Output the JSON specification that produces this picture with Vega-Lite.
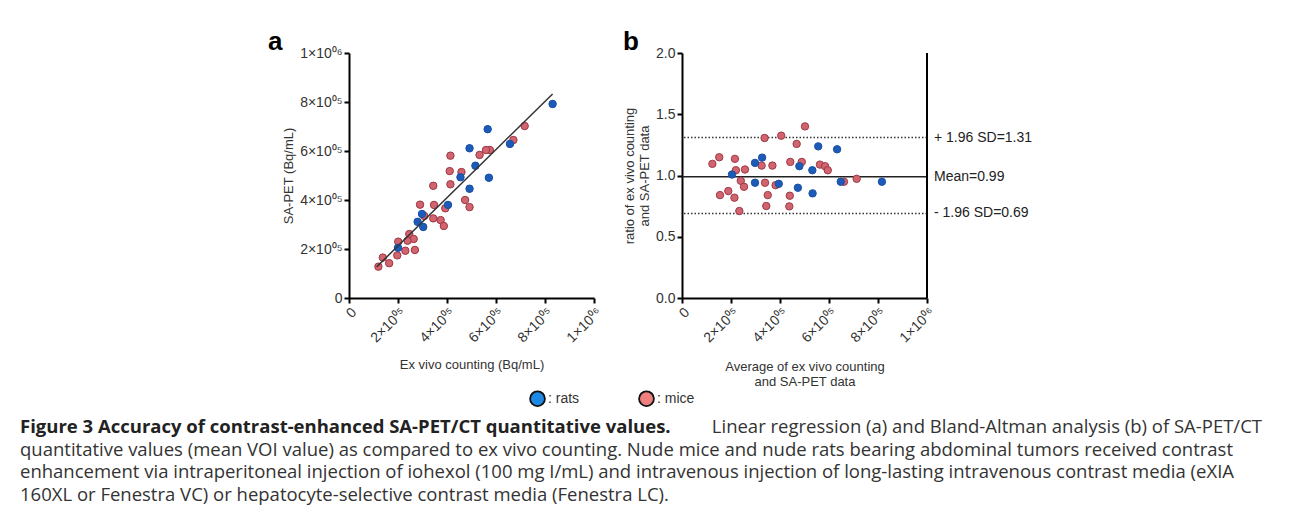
{
  "$schema": "https://vega.github.io/schema/vega-lite/v6.json",
  "padding": {"left": 20, "top": 29, "right": 5, "bottom": 0},
  "background": "white",
  "spacing": 27,
  "datasets": {
    "reg": [
      {"species": "mice", "exvivo": 717000, "sapet": 702000},
      {"species": "mice", "exvivo": 671000, "sapet": 645000},
      {"species": "mice", "exvivo": 575000, "sapet": 604000},
      {"species": "mice", "exvivo": 559000, "sapet": 604000},
      {"species": "mice", "exvivo": 533000, "sapet": 584000},
      {"species": "mice", "exvivo": 414000, "sapet": 581000},
      {"species": "mice", "exvivo": 411000, "sapet": 518000},
      {"species": "mice", "exvivo": 459000, "sapet": 514000},
      {"species": "mice", "exvivo": 414000, "sapet": 464000},
      {"species": "mice", "exvivo": 344000, "sapet": 458000},
      {"species": "mice", "exvivo": 474000, "sapet": 400000},
      {"species": "mice", "exvivo": 492000, "sapet": 371000},
      {"species": "mice", "exvivo": 393000, "sapet": 366000},
      {"species": "mice", "exvivo": 347000, "sapet": 380000},
      {"species": "mice", "exvivo": 290000, "sapet": 381000},
      {"species": "mice", "exvivo": 307000, "sapet": 335000},
      {"species": "mice", "exvivo": 344000, "sapet": 325000},
      {"species": "mice", "exvivo": 374000, "sapet": 318000},
      {"species": "mice", "exvivo": 387000, "sapet": 294000},
      {"species": "mice", "exvivo": 246000, "sapet": 261000},
      {"species": "mice", "exvivo": 264000, "sapet": 241000},
      {"species": "mice", "exvivo": 239000, "sapet": 234000},
      {"species": "mice", "exvivo": 201000, "sapet": 230000},
      {"species": "mice", "exvivo": 230000, "sapet": 193000},
      {"species": "mice", "exvivo": 269000, "sapet": 196000},
      {"species": "mice", "exvivo": 197000, "sapet": 174000},
      {"species": "mice", "exvivo": 138000, "sapet": 165000},
      {"species": "mice", "exvivo": 120000, "sapet": 128000},
      {"species": "mice", "exvivo": 164000, "sapet": 142000},
      {"species": "rats", "exvivo": 831000, "sapet": 792000},
      {"species": "rats", "exvivo": 657000, "sapet": 629000},
      {"species": "rats", "exvivo": 566000, "sapet": 689000},
      {"species": "rats", "exvivo": 492000, "sapet": 611000},
      {"species": "rats", "exvivo": 516000, "sapet": 540000},
      {"species": "rats", "exvivo": 455000, "sapet": 493000},
      {"species": "rats", "exvivo": 571000, "sapet": 491000},
      {"species": "rats", "exvivo": 492000, "sapet": 446000},
      {"species": "rats", "exvivo": 404000, "sapet": 380000},
      {"species": "rats", "exvivo": 298000, "sapet": 343000},
      {"species": "rats", "exvivo": 280000, "sapet": 311000},
      {"species": "rats", "exvivo": 303000, "sapet": 290000},
      {"species": "rats", "exvivo": 200000, "sapet": 205000}
    ],
    "ba": [
      {"species": "mice", "avg": 124000, "ratio": 1.095},
      {"species": "mice", "avg": 152000, "ratio": 1.149},
      {"species": "mice", "avg": 155000, "ratio": 0.84},
      {"species": "mice", "avg": 189000, "ratio": 0.873},
      {"species": "mice", "avg": 216000, "ratio": 1.136},
      {"species": "mice", "avg": 220000, "ratio": 1.043},
      {"species": "mice", "avg": 214000, "ratio": 0.819},
      {"species": "mice", "avg": 240000, "ratio": 0.957},
      {"species": "mice", "avg": 253000, "ratio": 0.908},
      {"species": "mice", "avg": 257000, "ratio": 1.049},
      {"species": "mice", "avg": 234000, "ratio": 0.71},
      {"species": "mice", "avg": 337000, "ratio": 1.306},
      {"species": "mice", "avg": 325000, "ratio": 1.081},
      {"species": "mice", "avg": 339000, "ratio": 0.941},
      {"species": "mice", "avg": 350000, "ratio": 0.84},
      {"species": "mice", "avg": 344000, "ratio": 0.751},
      {"species": "mice", "avg": 369000, "ratio": 1.081},
      {"species": "mice", "avg": 382000, "ratio": 0.921},
      {"species": "mice", "avg": 405000, "ratio": 1.325},
      {"species": "mice", "avg": 442000, "ratio": 1.111},
      {"species": "mice", "avg": 440000, "ratio": 0.835},
      {"species": "mice", "avg": 438000, "ratio": 0.748},
      {"species": "mice", "avg": 468000, "ratio": 1.258},
      {"species": "mice", "avg": 489000, "ratio": 1.111},
      {"species": "mice", "avg": 502000, "ratio": 1.401},
      {"species": "mice", "avg": 563000, "ratio": 1.089},
      {"species": "mice", "avg": 584000, "ratio": 1.076},
      {"species": "mice", "avg": 595000, "ratio": 1.043},
      {"species": "mice", "avg": 661000, "ratio": 0.949},
      {"species": "mice", "avg": 713000, "ratio": 0.973},
      {"species": "rats", "avg": 204000, "ratio": 1.008},
      {"species": "rats", "avg": 298000, "ratio": 1.103},
      {"species": "rats", "avg": 327000, "ratio": 1.146},
      {"species": "rats", "avg": 298000, "ratio": 0.941},
      {"species": "rats", "avg": 395000, "ratio": 0.932},
      {"species": "rats", "avg": 479000, "ratio": 1.076},
      {"species": "rats", "avg": 473000, "ratio": 0.9},
      {"species": "rats", "avg": 532000, "ratio": 1.043},
      {"species": "rats", "avg": 533000, "ratio": 0.854},
      {"species": "rats", "avg": 556000, "ratio": 1.238},
      {"species": "rats", "avg": 633000, "ratio": 1.214},
      {"species": "rats", "avg": 648000, "ratio": 0.949},
      {"species": "rats", "avg": 816000, "ratio": 0.949}
    ],
    "limits": [
      {"kind": "upper", "value": 1.31, "label": "+ 1.96 SD=1.31"},
      {"kind": "mean", "value": 0.99, "label": "Mean=0.99"},
      {"kind": "lower", "value": 0.69, "label": "- 1.96 SD=0.69"}
    ],
    "caption": [
      {"line": 1, "seg": "bold", "text": "Figure 3 Accuracy of contrast-enhanced SA-PET/CT quantitative values."},
      {"line": 1, "seg": "right", "text": "Linear regression (a) and Bland-Altman analysis (b) of SA-PET/CT"},
      {"line": 2, "seg": "left", "text": "quantitative values (mean VOI value) as compared to ex vivo counting. Nude mice and nude rats bearing abdominal tumors received contrast"},
      {"line": 3, "seg": "left", "text": "enhancement via intraperitoneal injection of iohexol (100 mg I/mL) and intravenous injection of long-lasting intravenous contrast media (eXIA"},
      {"line": 4, "seg": "left", "text": "160XL or Fenestra VC) or hepatocyte-selective contrast media (Fenestra LC)."}
    ]
  },
  "vconcat": [
    {
      "bounds": "flush",
      "spacing": 88,
      "hconcat": [
        {
          "width": 241,
          "height": 245,
          "data": {"values": []},
          "mark": {"type": "point", "opacity": 0}
        },
        {
          "width": 245,
          "height": 245,
          "title": {"text": "a", "anchor": "start", "frame": "group", "dx": -81, "dy": 35, "offset": 0, "baseline": "bottom", "fontSize": 26, "fontWeight": "bold", "font": "Liberation Sans", "color": "#000"},
          "data": {"name": "reg"},
          "encoding": {
            "x": {"field": "exvivo", "type": "quantitative", "scale": {"domain": [0, 1000000], "nice": false},
              "axis": {"values": [0, 200000, 400000, 600000, 800000, 1000000], "labelAngle": -45, "title": "Ex vivo counting (Bq/mL)", "titlePadding": 14,
                "labelExpr": "datum.value == 0 ? '0' : datum.value == 1000000 ? '1×10⁰⁶' : (datum.value / 100000) + '×10⁰⁵'"}},
            "y": {"field": "sapet", "type": "quantitative", "scale": {"domain": [0, 1000000], "nice": false},
              "axis": {"values": [0, 200000, 400000, 600000, 800000, 1000000], "title": "SA-PET (Bq/mL)", "titlePadding": 4,
                "labelExpr": "datum.value == 0 ? '0' : datum.value == 1000000 ? '1×10⁰⁶' : (datum.value / 100000) + '×10⁰⁵'"}}
          },
          "layer": [
            {
              "mark": {"type": "point", "filled": true, "size": 55, "strokeWidth": 1, "opacity": 1},
              "encoding": {
                "fill": {"field": "species", "type": "nominal",
                  "scale": {"domain": ["rats", "mice"], "range": ["#1e88e5", "#f08080"]},
                  "legend": {"orient": "none", "legendX": 509, "legendY": 337, "direction": "horizontal", "title": null,
                    "symbolType": "circle", "symbolSize": 220, "symbolStrokeColor": "#111", "symbolStrokeWidth": 1.8, "symbolOpacity": 1,
                    "labelExpr": "': ' + datum.label", "labelFont": "Liberation Sans", "labelFontSize": 14, "labelColor": "#333",
                    "columnPadding": 55, "labelOffset": 2, "padding": 0}}
              }
            },
            {
              "mark": {"type": "point", "filled": true, "size": 55, "strokeWidth": 1, "opacity": 1},
              "encoding": {
                "fill": {"condition": {"test": "datum.species == 'rats'", "value": "#1d5bb8"}, "value": "#d2646f"},
                "stroke": {"condition": {"test": "datum.species == 'rats'", "value": "#1d4fa3"}, "value": "#9b3a47"}
              }
            },
            {
              "transform": [{"regression": "sapet", "on": "exvivo", "extent": [113000, 831000]}],
              "mark": {"type": "line", "color": "#333", "strokeWidth": 1.5},
              "encoding": {
                "x": {"field": "exvivo", "type": "quantitative"},
                "y": {"field": "sapet", "type": "quantitative"}
              }
            },
            {
              "data": {"values": [{"label": "r²=0.87"}]},
              "mark": {"type": "text", "font": "Liberation Sans", "fontSize": 14, "color": "#222"},
              "encoding": {
                "x": {"datum": 393000},
                "y": {"datum": 824000},
                "text": {"field": "label"}
              }
            }
          ]
        },
        {
          "width": 245,
          "height": 245,
          "title": {"text": "b", "anchor": "start", "frame": "group", "dx": -59, "dy": 35, "offset": 0, "baseline": "bottom", "fontSize": 26, "fontWeight": "bold", "font": "Liberation Sans", "color": "#000"},
          "layer": [
            {
              "data": {"name": "limits"},
              "transform": [{"filter": "datum.kind != 'mean'"}],
              "mark": {"type": "rule", "color": "#333", "strokeWidth": 1.5, "strokeDash": [1.5, 2]},
              "encoding": {"y": {"field": "value", "type": "quantitative"}}
            },
            {
              "data": {"name": "limits"},
              "transform": [{"filter": "datum.kind == 'mean'"}],
              "mark": {"type": "rule", "color": "#222", "strokeWidth": 1.5},
              "encoding": {"y": {"field": "value", "type": "quantitative"}}
            },
            {
              "data": {"name": "ba"},
              "mark": {"type": "point", "filled": true, "size": 55, "strokeWidth": 1, "opacity": 1},
              "encoding": {
                "x": {"field": "avg", "type": "quantitative", "scale": {"domain": [0, 1000000], "nice": false},
                  "axis": {"values": [0, 200000, 400000, 600000, 800000, 1000000], "labelAngle": -45, "title": ["Average of ex vivo counting", "and SA-PET data"], "titlePadding": 16,
                    "labelExpr": "datum.value == 0 ? '0' : datum.value == 1000000 ? '1×10⁰⁶' : (datum.value / 100000) + '×10⁰⁵'"}},
                "y": {"field": "ratio", "type": "quantitative", "scale": {"domain": [0, 2], "nice": false},
                  "axis": {"values": [0, 0.5, 1, 1.5, 2], "format": ".1f", "title": ["ratio of ex vivo counting", "and SA-PET data"], "titlePadding": 4}},
                "fill": {"condition": {"test": "datum.species == 'rats'", "value": "#1d5bb8"}, "value": "#d2646f"},
                "stroke": {"condition": {"test": "datum.species == 'rats'", "value": "#1d4fa3"}, "value": "#9b3a47"}
              }
            },
            {
              "data": {"values": [{"edge": 1000000}]},
              "mark": {"type": "rule", "color": "#000", "strokeWidth": 2},
              "encoding": {"x": {"field": "edge", "type": "quantitative"}}
            },
            {
              "data": {"name": "limits"},
              "mark": {"type": "text", "align": "left", "dx": 7, "font": "Liberation Sans", "fontSize": 14, "color": "#222"},
              "encoding": {
                "x": {"datum": 1000000},
                "y": {"field": "value", "type": "quantitative"},
                "text": {"field": "label"}
              }
            }
          ]
        }
      ]
    },
    {
      "width": 1242,
      "height": 90,
      "data": {"name": "caption"},
      "encoding": {
        "y": {"field": "line", "type": "ordinal", "axis": null, "scale": {"padding": 0.5}}
      },
      "layer": [
        {
          "transform": [{"filter": "datum.seg == 'bold'"}],
          "mark": {"type": "text", "align": "left", "font": "Open Sans", "fontSize": 18.5, "fontWeight": "bold", "color": "#222"},
          "encoding": {"x": {"datum": 0, "scale": {"domain": [0, 1]}, "axis": null}, "text": {"field": "text"}}
        },
        {
          "transform": [{"filter": "datum.seg == 'left'"}],
          "mark": {"type": "text", "align": "left", "font": "Open Sans", "fontSize": 18.5, "color": "#333"},
          "encoding": {"x": {"datum": 0, "scale": {"domain": [0, 1]}, "axis": null}, "text": {"field": "text"}}
        },
        {
          "transform": [{"filter": "datum.seg == 'right'"}],
          "mark": {"type": "text", "align": "right", "font": "Open Sans", "fontSize": 18.5, "color": "#333"},
          "encoding": {"x": {"datum": 1, "scale": {"domain": [0, 1]}, "axis": null}, "text": {"field": "text"}}
        }
      ]
    }
  ],
  "config": {
    "view": {"stroke": null},
    "axis": {
      "grid": false,
      "domainColor": "#000", "domainWidth": 2,
      "tickColor": "#000", "tickWidth": 2, "tickSize": 5,
      "labelFont": "Liberation Sans", "labelFontSize": 14, "labelColor": "#333",
      "titleFont": "Liberation Sans", "titleFontSize": 13, "titleFontWeight": "normal", "titleColor": "#333"
    }
  }
}
